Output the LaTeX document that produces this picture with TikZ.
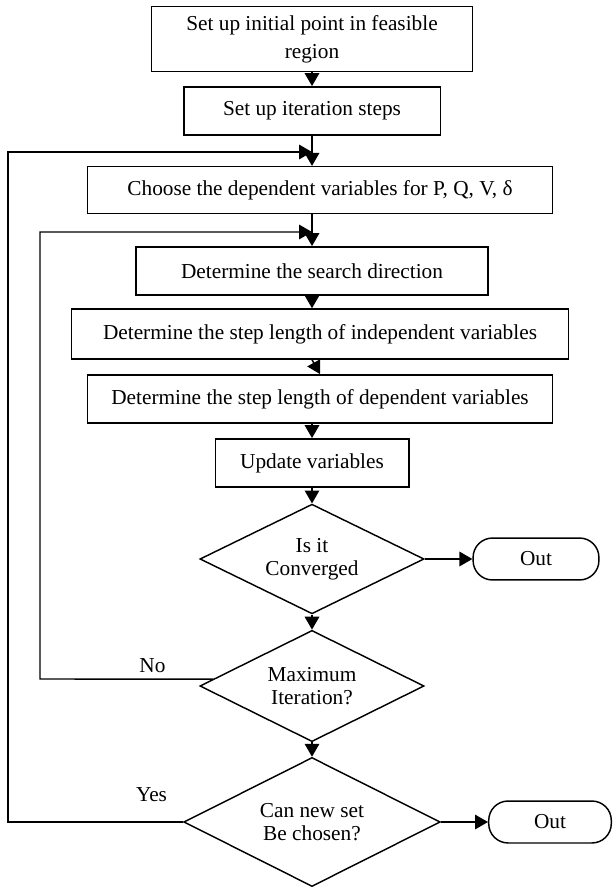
\documentclass[tikz,border=0pt]{standalone}
\usepackage{fontspec}
\setmainfont{Liberation Serif}
\usetikzlibrary{arrows.meta,shapes.geometric}
\tikzset{
  box/.style={draw, align=center, inner sep=2pt, font=\fontsize{13.2}{17.4}\selectfont},
  dec/.style={draw, diamond, aspect=2, align=center, inner sep=0pt},
  term/.style={draw, rounded corners=12pt, minimum width=78pt, minimum height=26pt},
}
\begin{document}
\begin{tikzpicture}[x=0.62pt, y=-0.62pt, line width=0.9pt, font=\fontsize{13.2}{14}\selectfont, >={Triangle[length=8pt,width=9pt]}]
\useasboundingbox (0,0) rectangle (613,887);
\node[box, minimum width=199pt, minimum height=40pt] (s1) at (312,39) {Set up initial point in feasible\\region};
\node[box, minimum width=159pt, minimum height=30pt] (s2) at (312,111) {Set up iteration steps};
\node[box, minimum width=288pt, minimum height=29pt] (s3) at (320,190) {Choose the dependent variables for P, Q, V, δ};
\node[box, minimum width=218pt, minimum height=30pt] (s4) at (312,271) {Determine the search direction};
\node[box, minimum width=308pt, minimum height=31pt] (s5) at (320,334) {Determine the step length of independent variables};
\node[box, minimum width=288pt, minimum height=30pt] (s6) at (320,399) {Determine the step length of dependent variables};
\node[box, minimum width=120pt, minimum height=30pt] (s7) at (312,463) {Update variables};
\node[dec, minimum width=139pt, minimum height=68pt] (d1) at (312,559) {Is it\\Converged};
\node[term] (o1) at (536,559) {Out};
\node[dec, minimum width=139pt, minimum height=69pt] (d2) at (312,686) {Maximum\\Iteration?};
\node[dec, minimum width=159pt, minimum height=80pt] (d3) at (312,822) {Can new set\\Be chosen?};
\node[term, minimum width=76pt] (o2) at (550,822) {Out};
\coordinate (j1) at (312,152);
\coordinate (j2) at (312,232);

\draw[->] (s1) to (s2);
\draw[->] (s2.south) to (s2.south |- s3.north);
\draw[->] (s3.south -| s1) to (s4.north);
\draw[->] (s4.south) to (s4.south |- s5.north);
\draw[->] (s5.south -| s1) to (s5.south |- s6.north);
\draw[->] (s6.south -| s1) to (s7.north);
\draw[->] (s7) to (d1);
\draw[->] (d1) to (o1);
\draw[->] (d1) to (d2);
\draw[->] (d2) to (d3);
\draw[->] (d3) to (o2);
\draw[->] (d2.176) -- node[above, pos=0.35]{No} (40,679) |- (j2);
\draw[->] (d3.west) -- node[above=9pt, pos=0.18]{Yes} (8,822) |- (j1);
\end{tikzpicture}
\end{document}
